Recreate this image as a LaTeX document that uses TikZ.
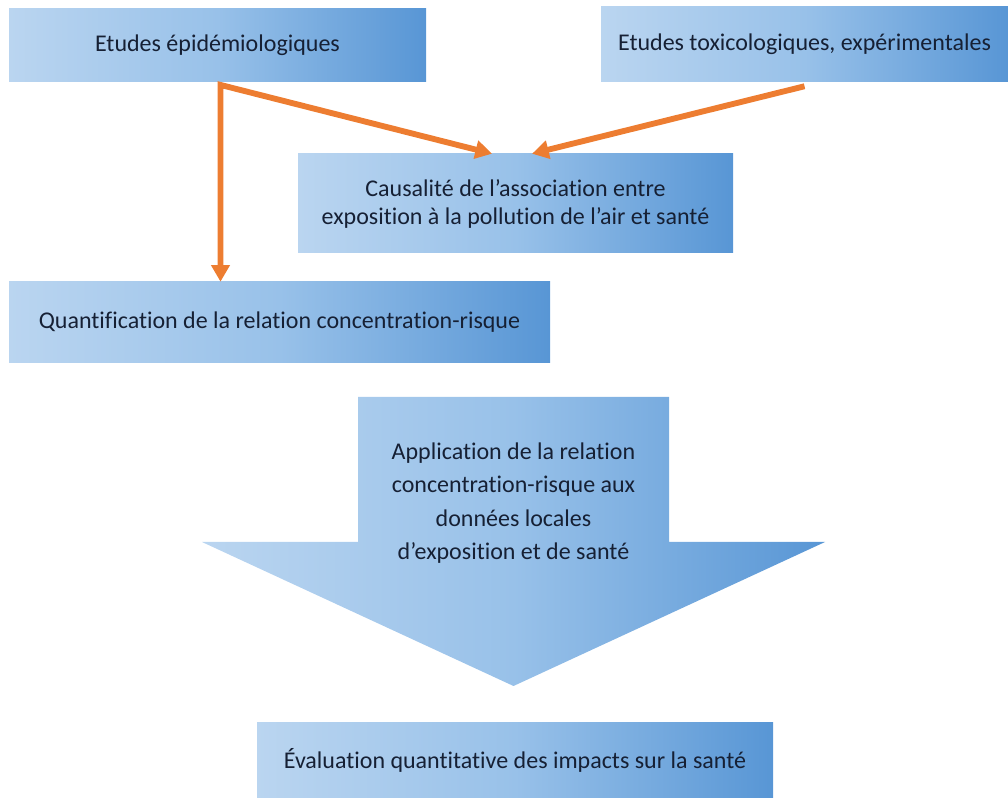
\documentclass[tikz,border=0pt]{standalone}
\usepackage{fontspec}
\setmainfont{Carlito}[Ligatures=NoCommon]
\usetikzlibrary{arrows.meta}
\definecolor{boxL}{RGB}{186,213,240}
\definecolor{boxM}{RGB}{152,193,233}
\definecolor{boxR}{RGB}{88,150,213}
\definecolor{txt}{RGB}{22,32,52}
\definecolor{orng}{RGB}{237,125,49}
\begin{document}
\begin{tikzpicture}[x=0.75pt,y=-0.75pt,
  bluebox/.style={left color=boxL, right color=boxR, middle color=boxM, draw=none,
    text=txt, font=\fontsize{18}{21}\selectfont, align=center, inner sep=0pt},
  link/.style={draw=orng, line width=4.4pt, line join=miter, -{Triangle[length=12.5pt,width=13.5pt]}},
  dlink/.style={draw=orng, line width=4.4pt, line join=miter, {Triangle[length=12.5pt,width=13.5pt]}-{Triangle[length=12.5pt,width=13.5pt]}}]
\useasboundingbox (0,0) rectangle (1008,798);

\node[bluebox, minimum width=312.75pt, minimum height=54.75pt] (epi) at (217.5,45.5) {Etudes épidémiologiques};
\node[bluebox, minimum width=305.25pt, minimum height=56.25pt] (tox) at (804.5,44.5) {Etudes toxicologiques, expérimentales};
\node[bluebox, minimum width=326.25pt, minimum height=74.25pt] (caus) at (515.5,203.5) {Causalité de l’association entre\\exposition à la pollution de l’air et santé};
\node[bluebox, minimum width=405.75pt, minimum height=60.75pt] (quant) at (279.5,322.5) {Quantification de la relation concentration-risque};
\node[bluebox, minimum width=387pt, minimum height=56.25pt] (eval) at (515,760.5) {Évaluation quantitative des impacts sur la santé};

\shade[left color=boxL, right color=boxR, middle color=boxM]
  (358,397) -- (669,397) -- (669,542) -- (825,542) -- (513.5,686) -- (202,542) -- (358,542) -- cycle;
\node[text=txt, font=\fontsize{18}{25}\selectfont, align=center, inner sep=0pt] (appl) at (513.5,503)
  {Application de la relation\\concentration-risque aux\\données locales\\d’exposition et de santé};

\coordinate (bend) at ([xshift=2.25pt,yshift=-2pt]epi.south);
\draw[dlink] (bend |- quant.north) -- (bend) -- ([xshift=-17.6pt]caus.north);
\draw[link] ([yshift=-3pt]tox.south) -- ([xshift=12.4pt]caus.north);
\end{tikzpicture}
\end{document}
